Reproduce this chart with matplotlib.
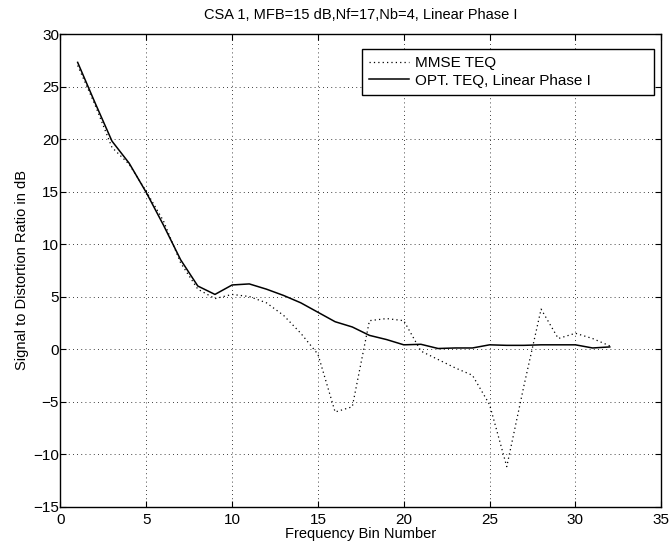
import matplotlib
matplotlib.use("Agg")
import matplotlib.pyplot as plt
import numpy as np

bins = np.arange(1, 33)

mmse_teq = [27.0, 23.3, 19.2, 17.6, 15.0, 12.2, 8.2, 5.7, 4.8, 5.2,
            5.0, 4.4, 3.2, 1.5, -0.5, -6.0, -5.5, 2.7, 2.9, 2.7,
            -0.2, -1.0, -1.8, -2.5, -5.3, -11.2, -3.5, 3.8, 1.0, 1.5,
            1.0, 0.3]

opt_teq = [27.3, 23.5, 19.8, 17.7, 14.9, 11.8, 8.5, 6.0, 5.2, 6.1,
           6.2, 5.7, 5.1, 4.4, 3.5, 2.6, 2.1, 1.3, 0.9, 0.4,
           0.45, 0.05, 0.1, 0.1, 0.4, 0.35, 0.35, 0.4, 0.4, 0.4,
           0.1, 0.2]

x_ticks = [0, 5, 10, 15, 20, 25, 30, 35]
y_ticks = [-15, -10, -5, 0, 5, 10, 15, 20, 25, 30]

plt.rcParams['font.family'] = ['Liberation Sans', 'DejaVu Sans']

fig = plt.figure(figsize=(6.72, 5.46), dpi=100)
ax = fig.add_axes([0.090, 0.0723, 0.894, 0.8654])

ax.plot(bins, mmse_teq, color="black", linestyle=(0, (1, 2.5)), linewidth=0.9,
        label="MMSE TEQ")
ax.plot(bins, opt_teq, color="black", linestyle="-", linewidth=1.1,
        label="OPT. TEQ, Linear Phase I")

ax.set_xlim(0, 35)
ax.set_ylim(-15, 30)
ax.set_xticks(x_ticks)
ax.set_yticks(y_ticks)
ax.set_yticklabels([str(v).replace("-", "\u2212") for v in y_ticks])
ax.tick_params(direction="in", top=True, right=True, labelsize=11, length=4,
               width=0.8)
ax.tick_params(axis="x", pad=5)
ax.tick_params(axis="y", pad=1)
ax.grid(True, color="black", linestyle=(0, (1, 4)), linewidth=0.6)
for s in ax.spines.values():
    s.set_linewidth(1.0)

ax.set_xlabel("Frequency Bin Number", fontsize=10.5, labelpad=0)
ax.set_ylabel("Signal to Distortion Ratio in dB", fontsize=10.5, labelpad=3)
ax.set_title("CSA 1, MFB=15 dB,Nf=17,Nb=4, Linear Phase I", fontsize=10.5, pad=11)

# MATLAB-style legend box: fixed width, text left-aligned
leg = ax.legend(loc="upper left", bbox_to_anchor=(0.502, 0.968, 0.486, 0.0),
                mode="expand", fontsize=11, fancybox=False, framealpha=1,
                edgecolor="black", borderpad=0.45, labelspacing=0.25,
                handlelength=2.6, handletextpad=0.4, borderaxespad=0)
leg.get_frame().set_linewidth(1.0)

fig.savefig("out.png", dpi=100)
